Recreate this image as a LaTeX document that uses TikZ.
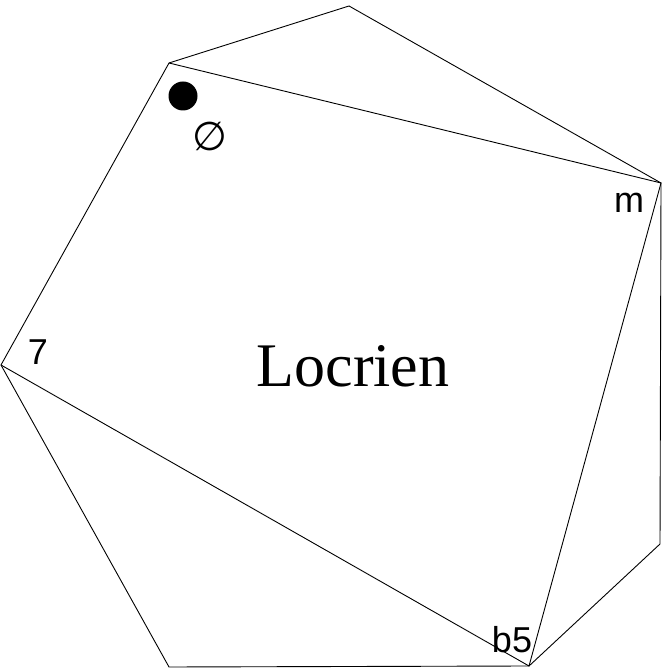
\documentclass[tikz,border=0pt]{standalone}
\usepackage{fontspec}
\setmainfont{Liberation Serif}
\newfontfamily\lsans{Liberation Sans}
\newfontfamily\djv{DejaVu Sans}
\begin{document}
\begin{tikzpicture}[x=1pt,y=1pt,
  edge/.style={draw=black,line width=0.9pt,line join=miter},
  lbl/.style={font=\lsans\fontsize{36}{40}\selectfont,inner sep=0pt}]
\useasboundingbox (0,0) rectangle (664,668);
\coordinate (T) at (349,662);
\coordinate (UL) at (169,605);
\coordinate (R) at (661,485);
\coordinate (RL) at (660,124);
\coordinate (BR) at (529,2);
\coordinate (BL) at (169,1);
\coordinate (L) at (1,303);
\draw[edge] (T) -- (R) -- (RL) -- (BR) -- (BL) -- (L) -- (UL) -- cycle;
\draw[edge] (UL) -- (R) -- (BR) -- (L);
\fill (183,572) circle (14.5);
\node[inner sep=0pt,font=\djv\fontsize{40}{44}\selectfont] (empty) at (210,531) {∅};
\node[lbl] (m) at (629,465) {m};
\node[lbl] (seven) at (38,316) {7};
\node[lbl] (b5) at (512,28) {b5};
\node[inner sep=0pt,font=\fontsize{62}{70}\selectfont] (title) at (353,302) {Locrien};
\end{tikzpicture}
\end{document}
